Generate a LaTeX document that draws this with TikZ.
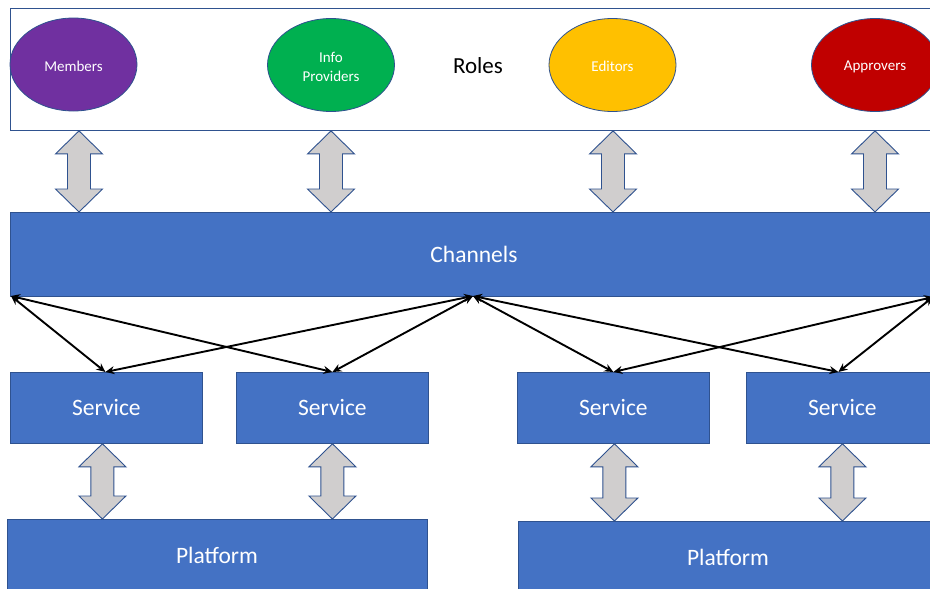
\documentclass[tikz,border=0pt]{standalone}
\usepackage{fontspec}
\setmainfont{Carlito}
\usetikzlibrary{arrows.meta,calc,shapes.geometric}
\definecolor{obl}{HTML}{4472C4}
\definecolor{obd}{HTML}{2F528F}
\definecolor{agr}{HTML}{D0CECE}
\definecolor{cpur}{HTML}{7030A0}
\definecolor{cgrn}{HTML}{00B050}
\definecolor{cyel}{HTML}{FFC000}
\definecolor{cred}{HTML}{C00000}
\tikzset{
  blk/.style={draw=obd, line width=0.8pt, fill=obl, text=white, inner sep=0pt, font=\fontsize{23.5}{26}\selectfont, anchor=north west},
  role/.style={ellipse, draw=obd, line width=0.8pt, inner sep=0pt, minimum width=127pt, minimum height=93pt},
  roletxt/.style={text=white, font=\fontsize{15}{19}\selectfont, align=center},
  garrow/.style={draw=obd, line width=0.9pt, fill=agr, line join=miter},
  link/.style={draw=black, line width=1.9pt, {Stealth[length=9pt,width=8pt]}-{Stealth[length=9pt,width=8pt]}}
}
\newcommand\dbar[2]{%
 \draw[garrow] let \p1=#1, \p2=#2 in
  (\x1,\y1) -- (\x1+23.5pt,\y1-23pt) -- (\x1+11.5pt,\y1-23pt) -- (\x1+11.5pt,\y2+23pt)
  -- (\x1+23.5pt,\y2+23pt) -- (\x1,\y2) -- (\x1-23.5pt,\y2+23pt) -- (\x1-11.5pt,\y2+23pt)
  -- (\x1-11.5pt,\y1-23pt) -- (\x1-23.5pt,\y1-23pt) -- cycle;}
\begin{document}
\begin{tikzpicture}[x=1pt,y=-1pt]
\useasboundingbox (0,0) rectangle (930,589);
\fill[white] (0,0) rectangle (930,589);
% Roles frame
\node[draw=obd, line width=0.9pt, inner sep=0pt, minimum width=936pt, minimum height=122pt, anchor=north west] (roles) at (10,8) {};
\node[font=\fontsize{23}{26}\selectfont] (rolestxt) at (478,66) {Roles};
\node[role, fill=cpur] (m) at (73.5,64.5) {};
\node[roletxt] at (73.5,66.5) {Members};
\node[role, fill=cgrn] (ip) at (331,65) {};
\node[roletxt] at (331,66.5) {Info\\Providers};
\node[role, fill=cyel] (ed) at (612.5,65) {};
\node[roletxt] at (612.5,66.5) {Editors};
\node[role, fill=cred] (ap) at (875,65) {};
\node[roletxt] at (875,66.5) {Approvers};
% Channels
\node[blk, minimum width=928pt, minimum height=84pt] (ch) at (10,212) {};
\node[text=white, font=\fontsize{23.5}{26}\selectfont] (chtxt) at (474,254) {Channels};
% Services
\node[blk, minimum width=192pt, minimum height=71pt] (s1) at (10,372) {};
\node[text=white, font=\fontsize{23.5}{26}\selectfont] at (s1.center) {Service};
\node[blk, minimum width=192pt, minimum height=71pt] (s2) at (236,372) {};
\node[text=white, font=\fontsize{23.5}{26}\selectfont] at (s2.center) {Service};
\node[blk, minimum width=192pt, minimum height=71pt] (s3) at (517,372) {};
\node[text=white, font=\fontsize{23.5}{26}\selectfont] at (s3.center) {Service};
\node[blk, minimum width=192pt, minimum height=71pt] (s4) at (746,372) {};
\node[text=white, font=\fontsize{23.5}{26}\selectfont] at (s4.center) {Service};
% Platforms
\node[blk, minimum width=420pt, minimum height=72pt] (p1) at (7,519) {};
\node[text=white, font=\fontsize{23.5}{26}\selectfont] at (217,555) {Platform};
\node[blk, minimum width=420pt, minimum height=72pt] (p2) at (518,521) {};
\node[text=white, font=\fontsize{23.5}{26}\selectfont] at (728,557) {Platform};
% block arrows roles <-> channels
\dbar{([xshift=5.5pt]m.south |- roles.south)}{([xshift=5.5pt]m.south |- ch.north)}
\dbar{(ip.south |- roles.south)}{(ip.south |- ch.north)}
\dbar{([xshift=0.5pt]ed.south |- roles.south)}{([xshift=0.5pt]ed.south |- ch.north)}
\dbar{(ap.south |- roles.south)}{(ap.south |- ch.north)}
% block arrows services <-> platforms
\dbar{([xshift=-4pt]s1.south)}{([xshift=-4pt]s1.south |- p1.north)}
\dbar{(s2.south)}{(s2.south |- p1.north)}
\dbar{([xshift=1pt]s3.south)}{([xshift=1pt]s3.south |- p2.north)}
\dbar{([xshift=0pt]s4.south)}{([xshift=0pt]s4.south |- p2.north)}
% channel ports
\coordinate (c1) at (11,296);
\coordinate (c2) at (473,296);
\coordinate (c3) at (933,297);
\coordinate (t1) at ([xshift=-1pt]s1.north);
\coordinate (t2) at (s2.north);
\coordinate (t3) at (s3.north);
\coordinate (t4) at ([xshift=-4pt]s4.north);
\draw[link] (c1) -- (t1);
\draw[link] (c1) -- (t2);
\draw[link] (c2) -- (t1);
\draw[link] (c2) -- (t2);
\draw[link] (c2) -- (t3);
\draw[link] (c2) -- (t4);
\draw[link] (c3) -- (t3);
\draw[link] (c3) -- (t4);
\end{tikzpicture}
\end{document}
